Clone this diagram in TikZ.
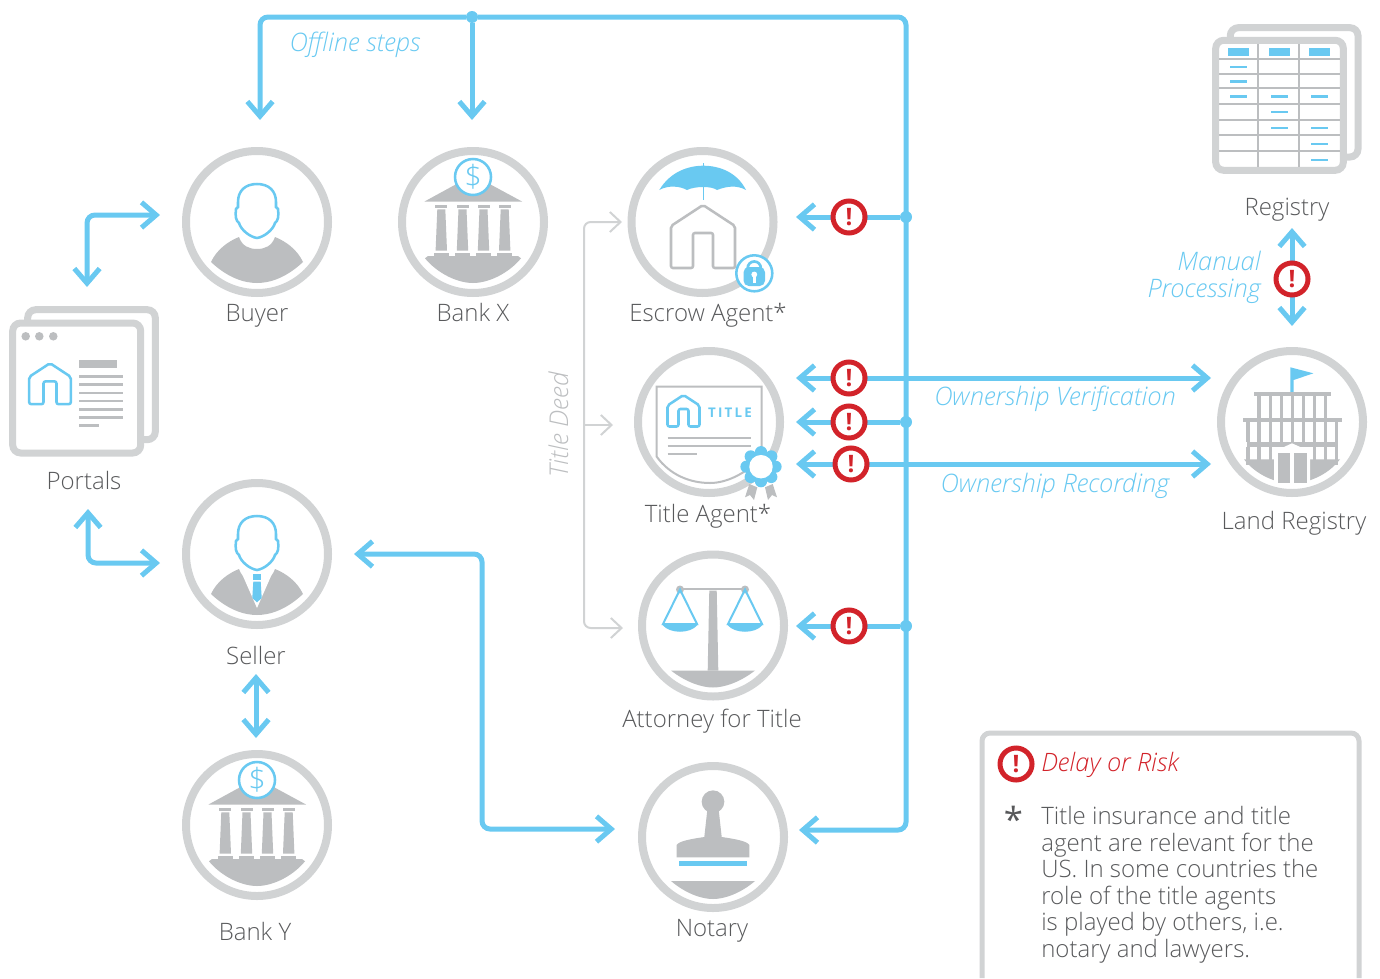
\documentclass[tikz,border=0pt]{standalone}
\usepackage{fontspec}
\setmainfont{Open Sans}[UprightFont=* Light,ItalicFont=* Light Italic,BoldFont=* Bold]
\newfontfamily\starfont{Open Sans}
\usetikzlibrary{arrows.meta}
\definecolor{flowblue}{HTML}{69C9F1}
\definecolor{ringgray}{HTML}{D1D3D4}
\definecolor{icongray}{HTML}{BCBEC0}
\definecolor{alertred}{HTML}{D2232A}
\definecolor{labelgray}{HTML}{58595B}
\tikzset{
  barbtip/.tip={Straight Barb[length=11pt,width=19pt,line width=3.75pt]},
  ringnode/.style={circle,draw=ringgray,line width=6pt,minimum size=106.5pt,inner sep=0pt,outer sep=0pt,fill=white},
  labelnode/.style={text=labelgray,font=\fontsize{18}{20}\selectfont,inner sep=0pt,anchor=base},
  flowlabel/.style={text=flowblue,font=\fontsize{19.1}{20}\selectfont\itshape,inner sep=0pt,anchor=base},
  flowarrow/.style={draw=flowblue,line width=3.75pt,rounded corners=6pt,barbtip-barbtip},
  flowhead/.style={draw=flowblue,line width=3.75pt,rounded corners=6pt,-barbtip},
  deedhead/.style={draw=ringgray,line width=1.5pt,rounded corners=5pt,-{Straight Barb[length=8pt,width=15pt,line width=1.5pt]}},
  busdot/.style={circle,fill=flowblue,minimum size=9pt,inner sep=0pt,outer sep=0pt},
  alertnode/.style={circle,draw=alertred,line width=3.75pt,fill=white,minimum size=24pt,inner sep=0pt,outer sep=0pt,text=alertred,font=\fontsize{18}{18}\selectfont\bfseries},
  sheet/.style={draw=ringgray,line width=5.25pt,rounded corners=6pt,fill=white},
}
% icons drawn around (#1,#2)
\newcommand{\houseicon}[5]{%
  \draw[#4,line width=#5,rounded corners=1.5pt,shift={(#1,#2)},scale=#3]
    (-10,31) -- (-32,31) -- (-32,-11) -- (0,-32) -- (32,-11) -- (32,31) -- (10,31)
    -- (10,-4) -- (-10,-4) -- cycle;}
\newcommand{\basearc}[3]{%
  \fill[icongray,shift={(#1,#2)}] (-42,#3) .. controls (-28,56) and (-12,62) .. (0,62)
    .. controls (12,62) and (28,56) .. (42,#3) -- cycle;}
\newcommand{\headicon}[2]{%
  \draw[flowblue,line width=1.9pt,shift={(#1,#2)},fill=white]
    (0,-38) .. controls (-12,-38) and (-19,-31) .. (-19,-20) -- (-19,-15) -- (-21,-13)
    .. controls (-22,-6) and (-21,-1) .. (-18,1) .. controls (-16,8) and (-7,15) .. (0,16)
    .. controls (7,15) and (16,8) .. (18,1) .. controls (21,-1) and (22,-6) .. (21,-13)
    -- (19,-15) -- (19,-20) .. controls (19,-31) and (12,-38) .. (0,-38) -- cycle;}
\newcommand{\bodyicon}[2]{%
  \fill[icongray,shift={(#1,#2)}] (-46,40) .. controls (-40,27) and (-28,19) .. (-18,15)
    .. controls (-15,24) and (-8,27) .. (0,27) .. controls (8,27) and (15,24) .. (18,15)
    .. controls (28,19) and (40,27) .. (46,40) .. controls (30,55) and (14,61) .. (0,61)
    .. controls (-14,61) and (-30,55) .. (-46,40) -- cycle;}
\newcommand{\bankicon}[2]{%
  \fill[icongray,shift={(#1,#2)}] (-48.5,-20.5) -- (0,-47) -- (49,-20.5) -- cycle;
  \foreach \cx in {-31.7,-10.5,10.5,31.7} {
    \fill[icongray,shift={(#1,#2)}] (\cx-6,-17) rectangle (\cx+6,-14.3);
    \fill[icongray,shift={(#1,#2)}] (\cx-4,-12.7) -- (\cx+4,-12.7) -- (\cx+5.7,28.7) -- (\cx-5.7,28.7) -- cycle;
    \fill[icongray,shift={(#1,#2)}] (\cx-7.7,31) rectangle (\cx+7.7,35);
  }
  \fill[icongray,shift={(#1,#2)}] (-45,34) -- (45,34) -- (48,36.3)
    .. controls (35,52) and (15,61) .. (0,61) .. controls (-15,61) and (-35,52) .. (-48,36.3) -- cycle;
  \node[circle,draw=flowblue,line width=1.9pt,fill=white,minimum size=27pt,inner sep=0pt,outer sep=0pt,text=flowblue,font=\fontsize{23}{23}\selectfont] at (#1,#2-45) {\$};}
\begin{document}
\begin{tikzpicture}[x=0.75pt,y=-0.75pt]
\useasboundingbox (0,0) rectangle (1380,978);
% back sheets
\draw[sheet] (27.7,309.7) rectangle (155.3,439.7);
\draw[sheet] (12.7,323) rectangle (140.7,453);
\draw[sheet] (1230.3,27.7) rectangle (1358,157);
\draw[sheet] (1215.7,40.3) rectangle (1343.3,170.3);
% portal contents
\foreach \dotx in {25.7,39.3,53.3} \fill[icongray] (\dotx,336.3) circle (3.2pt);
\fill[icongray] (79,360) rectangle (117.3,368);
\foreach \liney in {376.7,384.7,393,401,409.3,417.3} \draw[icongray,line width=1.9pt] (79,\liney) -- (123,\liney);
\draw[icongray,line width=1.9pt] (79,425.3) -- (98.7,425.3);
\houseicon{50}{384}{0.65}{flowblue}{1.9pt}
% registry table
\foreach \liney in {59,73.7,88.3,104,119.7,135.3,151} \draw[icongray,line width=1.6pt] (1219,\liney) -- (1340,\liney);
\foreach \linex in {1257.7,1299.3} \draw[icongray,line width=1.6pt] (\linex,44) -- (\linex,167);
\foreach \headx in {1228,1269,1309.3} \fill[flowblue] (\headx,48) rectangle (\headx+21,55.7);
\foreach \dashx/\dashy in {1230/66.7,1230/81.3,1230/96.3,1271/96.3,1311.3/96.3,1271/112,1271/128,1311.3/128,1311.3/143.7,1311.3/159.7}
  \draw[flowblue,line width=1.8pt] (\dashx,\dashy) -- (\dashx+17,\dashy);
% rings
\node[ringnode] (buyer) at (257,222) {};
\node[ringnode] (bankx) at (473,222) {};
\node[ringnode] (escrow) at (702.5,222) {};
\node[ringnode] (titleagent) at (709,422) {};
\node[ringnode] (attorney) at (713,625.5) {};
\node[ringnode] (notary) at (713,837) {};
\node[ringnode] (seller) at (257,554) {};
\node[ringnode] (banky) at (257,825) {};
\node[ringnode] (landreg) at (1292,422) {};
% people
\bodyicon{257}{222}
\headicon{257}{222}
\bodyicon{257}{554}
\fill[white] (257-18,554+13) -- (257+18,554+13) -- (257,554+54) -- cycle;
\headicon{257}{554}
\fill[flowblue] (253.3,554+20) rectangle (260.7,554+26);
\fill[flowblue] (253.3,554+27.7) -- (260.7,554+27.7) -- (261.7,554+44) -- (257,554+48.3) -- (252.3,554+44) -- cycle;
% banks
\bankicon{473}{222}
\bankicon{257}{825}
% escrow
\houseicon{703}{237}{1}{icongray}{1.9pt}
\fill[flowblue] (659.3,190) .. controls (670,172) and (688,165.7) .. (703.3,165.7)
  .. controls (719,165.7) and (737,172) .. (746,190)
  .. controls (737,185) and (727,186) .. (717,190) .. controls (712,186) and (695,186) .. (687,190)
  .. controls (680,186) and (668,185) .. (659.3,190) -- cycle;
\draw[flowblue,line width=1.1pt] (703.3,163) -- (703.3,200);
\draw[flowblue,line width=1.9pt,fill=white] (754.3,273.3) circle (13.5pt);
\draw[flowblue,line width=2pt] (747.5,272) -- (747.5,269) .. controls (747.5,259) and (761,259) .. (761,269) -- (761,272);
\fill[flowblue,rounded corners=4pt] (743.5,267) rectangle (765,286);
\fill[white] (754.3,274.5) circle (2.2pt);
\fill[white] (753,275) rectangle (755.6,282.7);
% title document
\draw[icongray,line width=1.5pt] (656.7,386.7) -- (761.7,386.7) -- (761.7,456.7)
  .. controls (745,475) and (725,483) .. (710,483) .. controls (690,483) and (670,475) .. (656.7,456.7) -- cycle;
\houseicon{683.5}{411}{0.5}{flowblue}{1.9pt}
\node[text=flowblue,font=\fontsize{10}{10}\selectfont\bfseries,inner sep=0pt] (titleword) at (730,412.7) {T\,I\,T\,L\,E};
\foreach \liney/\lineend in {438.3/751,446/751,454.3/696.7}
  \draw[icongray,line width=1.5pt] (667.7,\liney) -- (\lineend,\liney);
\fill[icongray] (749.3,484) -- (757.3,487.3) -- (754,500) -- (750,495) -- (745,497.3) -- cycle;
\fill[icongray] (772.7,484) -- (765,487.3) -- (768,500) -- (772,495) -- (777,497.3) -- cycle;
\foreach \petal in {0,45,...,315} \fill[flowblue] (761,466.7) ++(\petal:14.5) circle (4.6pt);
\fill[flowblue] (761,466.7) circle (11pt);
\fill[white] (761,466.7) circle (8.8pt);
% scales
\draw[icongray,line width=2.2pt] (680,589) -- (745,589);
\fill[icongray] (709.3,590.5) -- (716.7,590.5) -- (718.3,670.5) -- (707.7,670.5) -- cycle;
\fill[icongray] (680,589.5) circle (3pt) (745,589.5) circle (3pt);
\basearc{713}{625.5}{45}
\foreach \panx in {680,745} {
  \draw[flowblue,line width=1.5pt] (\panx-17,624) -- (\panx,589.5) -- (\panx+17,624) -- cycle;
  \fill[flowblue] (\panx-17.5,625) .. controls (\panx-10,634) and (\panx+10,634) .. (\panx+17.5,625) -- cycle;
}
% stamp
\fill[icongray] (713,801.7) circle (8.5pt);
\fill[icongray] (707.3,810) -- (718.7,810) -- (721.7,837) .. controls (735,839) and (747,841) .. (749.3,845)
  -- (749.3,857.3) -- (676.7,857.3) -- (676.7,845) .. controls (679,841) and (691,839) .. (704.3,837) -- cycle;
\fill[flowblue] (679,861) rectangle (747,866);
\basearc{713}{837}{44}
% land registry
\fill[flowblue] (1290.3,367.3) -- (1313.3,373.3) -- (1293.7,380) -- (1293.7,392) -- (1290.3,392) -- cycle;
\fill[icongray] (1254,391.7) rectangle (1330.7,395.7);
\foreach \barx in {-33.2,-21.7,-10.7,0.3,11.7,22.7,33.7} \fill[icongray] (1292+\barx-1.7,395.7) rectangle (1292+\barx+1.7,418);
\fill[icongray] (1243.3,418) rectangle (1342,422);
\foreach \barx in {-44.2,-33.2,-21.7,-10.7,0.3,11.7,22.7,33.7,44.7} \fill[icongray] (1292+\barx-1.7,422) rectangle (1292+\barx+1.7,442);
\fill[icongray] (1246.7,441.7) rectangle (1338.3,446.7);
\foreach \barx in {-44.2,-33.2,-21.7,22.7,33.7,44.7} \fill[icongray] (1292+\barx-1.7,446.7) rectangle (1292+\barx+1.7,465);
\fill[icongray] (1244,459.3) -- (1340,459.3) .. controls (1328,475) and (1308,483.3) .. (1292,483.3)
  .. controls (1276,483.3) and (1256,475) .. (1244,459.3) -- cycle;
\fill[white] (1271.7,452.7) -- (1292,443.3) -- (1312.7,452.7) -- (1310,452.7) -- (1310,484) -- (1274,484) -- (1274,452.7) -- cycle;
\fill[icongray] (1278,453.3) rectangle (1290,482.7);
\fill[icongray] (1294.3,453.3) rectangle (1306.7,482.7);
% junctions and ends
\node[busdot] (topdot) at (472,17) {};
\node[busdot] (escrowdot) at (906,217) {};
\node[busdot] (titledot) at (906,422) {};
\node[busdot] (attorneydot) at (906,626) {};
\coordinate (buyerin) at (260,120);
\coordinate (bankxin) at (472,120);
\coordinate (notaryin) at (799,830);
\coordinate (escrowin) at (796,217);
\coordinate (titlein) at (796,422);
\coordinate (attorneyin) at (796,626);
\coordinate (verifyleft) at (796,378);
\coordinate (verifyright) at (1211,378);
\coordinate (recordleft) at (796,464);
\coordinate (recordright) at (1211,464);
\coordinate (portalup) at (87,287);
\coordinate (buyerleft) at (160,215);
\coordinate (portaldown) at (88,509);
\coordinate (sellerleft) at (160,563);
\coordinate (sellerdown) at (256,674);
\coordinate (bankytop) at (256,738);
\coordinate (sellerright) at (354,554);
\coordinate (notaryleft) at (615,829);
\coordinate (registrydown) at (1292,228);
\coordinate (landregup) at (1292,326);
\coordinate (deedtop) at (622,222);
\coordinate (deedmid) at (613,425);
\coordinate (deedlow) at (623,628);
% connectors
\draw[flowhead] (topdot) -- (260,17) -- (buyerin);
\draw[flowhead] (topdot) -- (bankxin);
\draw[flowhead] (topdot) -- (906,17) -- (906,830) -- (notaryin);
\draw[flowhead] (escrowdot) -- (escrowin);
\draw[flowhead] (titledot) -- (titlein);
\draw[flowhead] (attorneydot) -- (attorneyin);
\draw[flowarrow] (verifyleft) -- (verifyright);
\draw[flowarrow] (recordleft) -- (recordright);
\draw[flowarrow] (portalup) -- (87,215) -- (buyerleft);
\draw[flowarrow] (portaldown) -- (88,563) -- (sellerleft);
\draw[flowarrow] (sellerdown) -- (bankytop);
\draw[flowarrow] (sellerright) -- (482,554) -- (482,829) -- (notaryleft);
\draw[flowarrow] (registrydown) -- (landregup);
\draw[deedhead] (584,425) -- (deedmid);
\draw[deedhead] (584,425) -- (584,222) -- (deedtop);
\draw[deedhead] (584,425) -- (584,628) -- (deedlow);
% alerts
\node[alertnode] (alertescrow) at (849,217) {!};
\node[alertnode] (alertverify) at (849,378) {!};
\node[alertnode] (alerttitle) at (849,422) {!};
\node[alertnode] (alertrecord) at (851,464) {!};
\node[alertnode] (alertattorney) at (849,626) {!};
\node[alertnode] (alertregistry) at (1292,279) {!};
\node[alertnode] (alertlegend) at (1016,764) {!};
% labels
\node[labelnode] (buyertext) at (257,321) {Buyer};
\node[labelnode] (bankxtext) at (473,321) {Bank X};
\node[labelnode] (escrowtext) at (708,321) {Escrow Agent*};
\node[labelnode] (titletext) at (708,522) {Title Agent*};
\node[labelnode] (attorneytext) at (712,727) {Attorney for Title};
\node[labelnode] (notarytext) at (712,936) {Notary};
\node[labelnode] (sellertext) at (256,664) {Seller};
\node[labelnode] (bankytext) at (255,940) {Bank Y};
\node[labelnode] (portalstext) at (84,489) {Portals};
\node[labelnode] (registrytext) at (1287,215) {Registry};
\node[labelnode] (landregtext) at (1294,529) {Land Registry};
\node[flowlabel] (offlinetext) at (355,51) {Offline steps};
\node[flowlabel,anchor=base east] (manualtext) at (1261,270) {Manual};
\node[flowlabel,anchor=base east] (processingtext) at (1261,297) {Processing};
\node[flowlabel] (verifytext) at (1055,405) {Ownership Verification};
\node[flowlabel] (recordtext) at (1055,492) {Ownership Recording};
\node[text=icongray,font=\fontsize{19.4}{20}\selectfont\itshape,rotate=90,inner sep=0pt,anchor=base] (deedtext) at (568,425) {Title Deed};
% legend
\draw[draw=ringgray,line width=3.75pt,rounded corners=6pt] (982,978) -- (982,733) -- (1359,733) -- (1359,978);
\node[text=alertred,font=\fontsize{19}{20}\selectfont\itshape,anchor=base west,inner sep=0pt] (legendtext) at (1041,771) {Delay or Risk};
\node[text=labelgray,font=\starfont\fontsize{26}{26}\selectfont,inner sep=0pt] (legendstar) at (1013.5,819) {*};
\node[labelnode,align=left,anchor=base west,font=\fontsize{18}{19.9}\selectfont] (legendbody) at (1041,957.5) {Title insurance and title\\agent are relevant for the\\US. In some countries the\\role of the title agents\\is played by others, i.e.\\notary and lawyers.};
\end{tikzpicture}
\end{document}
